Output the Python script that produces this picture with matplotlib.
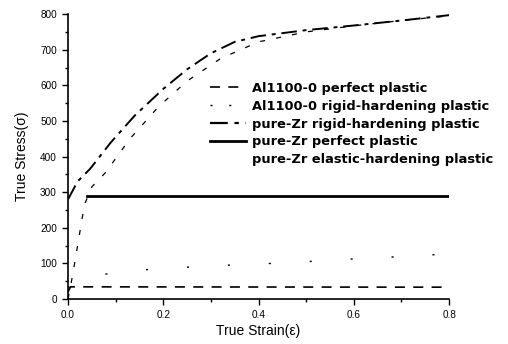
import numpy as np
import matplotlib
matplotlib.use("Agg")
import matplotlib.pyplot as plt
from matplotlib.lines import Line2D
from matplotlib.ticker import MultipleLocator

plt.rcParams['font.family'] = ['Liberation Sans', 'DejaVu Sans']

# Al1100-0 perfect plastic
al_pp_x = [0.0, 0.005, 0.8]
al_pp_y = [20, 34, 33]
# Al1100-0 rigid-hardening plastic
al_rh_x = [0.0, 0.01, 0.053, 0.13, 0.205, 0.305, 0.485, 0.535, 0.714, 0.767, 0.8]
al_rh_y = [30, 45, 65, 79, 86, 93, 103, 108, 120, 124, 126]
# pure-Zr rigid-hardening plastic
zr_rh_x = [0.0, 0.02, 0.046, 0.09, 0.14, 0.2, 0.25, 0.3, 0.35, 0.4, 0.5, 0.6,
           0.7, 0.8]
zr_rh_y = [280, 330, 365, 440, 515, 590, 645, 690, 722, 738, 755, 768, 782, 797]
# pure-Zr perfect plastic
zr_pp_x = [0.04, 0.8]
zr_pp_y = [290, 290]
# pure-Zr elastic-hardening plastic
zr_eh_x = [0.0, 0.01, 0.02, 0.03, 0.036, 0.05, 0.078, 0.13, 0.19, 0.25, 0.32,
           0.4, 0.5, 0.6, 0.7, 0.8]
zr_eh_y = [0, 70, 150, 230, 270, 315, 354, 450, 540, 612, 675, 722, 750, 767,
           782, 795]

labels = ["Al1100-0 perfect plastic", "Al1100-0 rigid-hardening plastic",
          "pure-Zr rigid-hardening plastic", "pure-Zr perfect plastic",
          "pure-Zr elastic-hardening plastic"]

fig = plt.figure(figsize=(5.08, 3.44), dpi=100)
ax = fig.add_axes([0.134, 0.131, 0.75, 0.828])

ax.plot(al_pp_x, al_pp_y, color='k', lw=1.2, ls=(0, (6, 5)))
ax.plot(al_rh_x, al_rh_y, color='k', lw=1.0, ls=(0, (1.5, 28)))
ax.plot(zr_rh_x, zr_rh_y, color='k', lw=1.4, ls=(0, (8, 3, 2, 3)))
ax.plot(zr_pp_x, zr_pp_y, color='k', lw=2.0, ls='-')
ax.plot(zr_eh_x, zr_eh_y, color='k', lw=0.9, ls=(0, (4, 9)))

handles = [
    Line2D([], [], color='k', lw=1.2, ls=(0, (6, 5))),
    Line2D([], [], color='k', lw=1.0, ls=(0, (1.5, 12))),
    Line2D([], [], color='k', lw=1.6, ls=(0, (8, 3, 2, 3))),
    Line2D([], [], color='k', lw=2.0, ls='-'),
    Line2D([], [], color='none'),
]
leg = ax.legend(handles, labels, loc='upper left', bbox_to_anchor=(0.36, 0.78),
                frameon=False, prop={'family': 'DejaVu Sans', 'weight': 'bold',
                                     'size': 9.4},
                handlelength=2.7, handletextpad=0.5,
                labelspacing=0.37, borderaxespad=0)

ax.set_xlim(0, 0.8)
ax.set_ylim(0, 800)
ax.xaxis.set_major_locator(MultipleLocator(0.2))
ax.xaxis.set_minor_locator(MultipleLocator(0.1))
ax.yaxis.set_major_locator(MultipleLocator(100))
ax.yaxis.set_minor_locator(MultipleLocator(50))
ax.set_xticks([0, 0.2, 0.4, 0.6, 0.8])
ax.set_xticklabels(["0.0", "0.2", "0.4", "0.6", "0.8"])
ax.tick_params(which='major', direction='out', length=4, width=1, labelsize=7.2,
               pad=4)
ax.tick_params(which='minor', direction='out', length=2.5, width=1)
ax.spines['top'].set_visible(False)
ax.spines['right'].set_visible(False)
ax.spines['left'].set_linewidth(1.2)
ax.spines['bottom'].set_linewidth(1.2)

ax.set_xlabel("True Strain(ε)", fontsize=10, labelpad=3)
ax.set_ylabel("True Stress(σ)", fontsize=10, labelpad=8)

fig.savefig("out.png", dpi=100)
